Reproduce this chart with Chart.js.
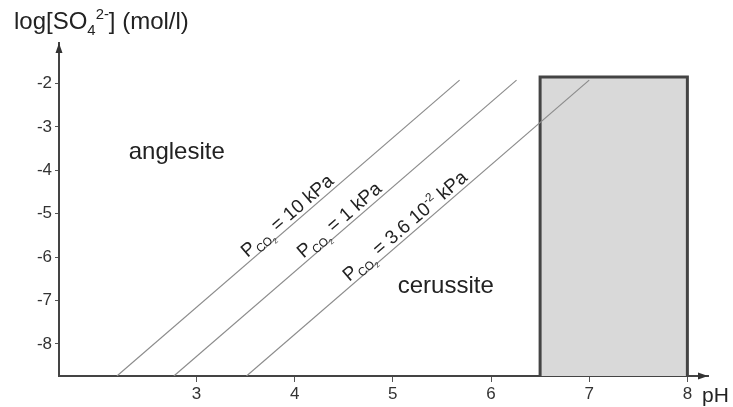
<!DOCTYPE html>
<html>
<head>
<meta charset="utf-8">
<script src="https://cdn.jsdelivr.net/npm/chart.js@4"></script>
<style>
  html, body { margin: 0; background: #fff; }
  #wrap { width: 733px; height: 407px; }
</style>
</head>
<body>
<div id="wrap"><canvas id="diagram"></canvas></div>
<script>
// axis ranges and ticks
const phRange = [1.6, 8.21];
const logRange = [-8.74, -1.065];
const phTicks = [3, 4, 5, 6, 7, 8];
const logTicks = [-8, -7, -6, -5, -4, -3, -2];

// equilibrium lines anglesite / cerussite for three CO2 pressures
const pco2Labels = ['P_{CO_{2}} = 10 kPa', 'P_{CO_{2}} = 1 kPa', 'P_{CO_{2}} = 3.6 10^{-2} kPa'];
const lineStartPh = [2.19, 2.77, 3.51];
const lineEndPh = [5.68, 6.26, 7.0];
const lineLog = [-8.74, -1.92];
const labelPh = [3.99, 4.52, 5.19];

// stability fields
const fieldNames = ['anglesite', 'cerussite'];
const fieldPh = [2.31, 5.05];
const fieldLog = [-3.74, -6.83];

// shaded pH window
const boxPh = [6.5, 8];
const boxTopLog = -1.85;

const FONT = "'Liberation Sans', Arial, sans-serif";
Chart.defaults.font.family = FONT;

function parseRich(str) {
    const parts = [];
    const stack = [];
    let buf = '';
    const flush = () => { if (buf) { parts.push({ text: buf, levels: stack.slice() }); buf = ''; } };
    for (let i = 0; i < str.length; i++) {
        const c = str[i];
        if ((c === '_' || c === '^') && str[i + 1] === '{') { flush(); stack.push(c); i++; }
        else if (c === '}') { flush(); stack.pop(); }
        else buf += c;
    }
    flush();
    return parts;
}

function drawRich(ctx, str, x, y, size, align) {
    const parts = parseRich(str).map(p => {
        let s = size, dy = 0;
        p.levels.forEach(l => { dy += l === '_' ? s * 0.25 : -s * 0.42; s *= 0.62; });
        return { text: p.text, size: s, dy: dy };
    });
    let total = 0;
    parts.forEach(p => {
        ctx.font = p.size + 'px ' + FONT;
        p.w = ctx.measureText(p.text).width;
        total += p.w;
    });
    let cx = align === 'center' ? x - total / 2 : x;
    parts.forEach(p => {
        ctx.font = p.size + 'px ' + FONT;
        ctx.fillText(p.text, cx, y + p.dy);
        cx += p.w;
    });
}

const annotations = {
    id: 'annotations',
    afterDraw(chart) {
        const ctx = chart.ctx;
        const xs = chart.scales.x, ys = chart.scales.y;
        const area = chart.chartArea;
        ctx.save();
        ctx.fillStyle = '#333';

        // arrow heads
        ctx.beginPath();
        ctx.moveTo(area.left, area.top);
        ctx.lineTo(area.left - 3.5, area.top + 10);
        ctx.lineTo(area.left + 3.5, area.top + 10);
        ctx.closePath();
        ctx.fill();
        ctx.beginPath();
        ctx.moveTo(area.right, area.bottom);
        ctx.lineTo(area.right - 10, area.bottom - 3.5);
        ctx.lineTo(area.right - 10, area.bottom + 3.5);
        ctx.closePath();
        ctx.fill();

        ctx.fillStyle = '#222';
        ctx.textBaseline = 'alphabetic';
        drawRich(ctx, 'log[SO_{4}^{2-}] (mol/l)', 14, 29, 24, 'left');
        drawRich(ctx, 'pH', area.right - 6, 402, 21, 'left');

        fieldNames.forEach((name, i) => {
            drawRich(ctx, name, xs.getPixelForValue(fieldPh[i]), ys.getPixelForValue(fieldLog[i]), 24, 'left');
        });

        pco2Labels.forEach((label, i) => {
            const x1 = xs.getPixelForValue(lineStartPh[i]), y1 = ys.getPixelForValue(lineLog[0]);
            const x2 = xs.getPixelForValue(lineEndPh[i]), y2 = ys.getPixelForValue(lineLog[1]);
            const t = (labelPh[i] - lineStartPh[i]) / (lineEndPh[i] - lineStartPh[i]);
            ctx.save();
            ctx.translate(x1 + (x2 - x1) * t, y1 + (y2 - y1) * t);
            ctx.rotate(Math.atan2(y2 - y1, x2 - x1));
            drawRich(ctx, label, 0, -4, 19, 'center');
            ctx.restore();
        });
        ctx.restore();
    }
};

const lineSets = pco2Labels.map((label, i) => ({
    label: label,
    data: [{ x: lineStartPh[i], y: lineLog[0] }, { x: lineEndPh[i], y: lineLog[1] }],
    showLine: true,
    borderColor: '#8c8c8c',
    borderWidth: 1.2,
    pointRadius: 0,
    fill: false
}));

new Chart('diagram', {
    type: 'scatter',
    data: {
        datasets: lineSets.concat([{
            label: 'window',
            data: [
                { x: boxPh[0], y: logRange[0] },
                { x: boxPh[0], y: boxTopLog },
                { x: boxPh[1], y: boxTopLog },
                { x: boxPh[1], y: logRange[0] }
            ],
            showLine: true,
            borderColor: '#444',
            borderWidth: 3,
            backgroundColor: '#d9d9d9',
            pointRadius: 0,
            fill: 'start'
        }])
    },
    options: {
        responsive: true,
        maintainAspectRatio: false,
        animation: false,
        layout: { padding: { left: 0, top: 43, right: 25, bottom: 0 } },
        plugins: { legend: { display: false }, tooltip: { enabled: false } },
        scales: {
            x: {
                type: 'linear',
                min: phRange[0],
                max: phRange[1],
                afterBuildTicks: s => { s.ticks = phTicks.map(v => ({ value: v })); },
                afterFit: s => { s.height = 31; },
                grid: { drawOnChartArea: false, tickLength: 6, color: '#555', lineWidth: 1 },
                border: { color: '#444', width: 2 },
                ticks: { font: { size: 17 }, color: '#333', padding: 2, maxRotation: 0, autoSkip: false }
            },
            y: {
                type: 'linear',
                min: logRange[0],
                max: logRange[1],
                afterBuildTicks: s => { s.ticks = logTicks.map(v => ({ value: v })); },
                afterFit: s => { s.width = 59; },
                grid: { drawOnChartArea: false, tickLength: 4, color: '#555', lineWidth: 1 },
                border: { color: '#444', width: 2 },
                ticks: { font: { size: 17 }, color: '#333', padding: 3, autoSkip: false }
            }
        }
    },
    plugins: [annotations]
});
</script>
</body>
</html>
